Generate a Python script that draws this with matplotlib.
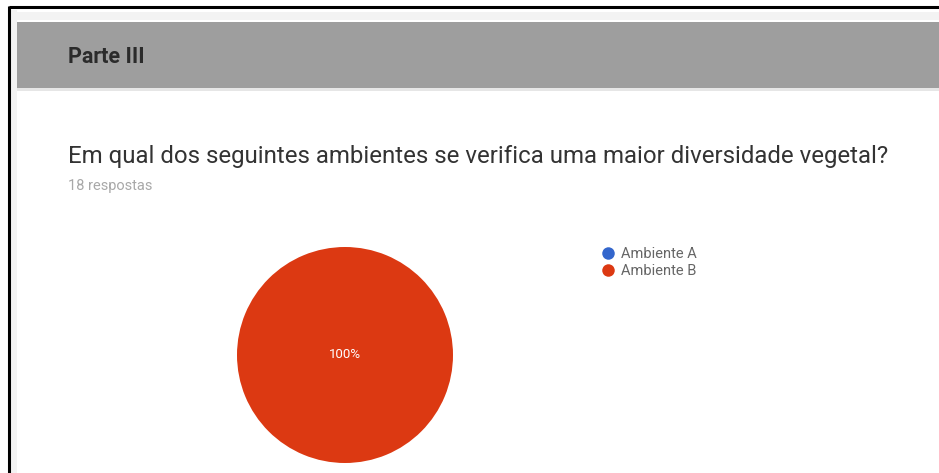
import matplotlib.pyplot as plt
from matplotlib.lines import Line2D
from matplotlib.patches import Rectangle

plt.rcParams['font.family'] = ['Roboto', 'DejaVu Sans']

section = "Parte III"
question = "Em qual dos seguintes ambientes se verifica uma maior diversidade vegetal?"
n_responses = 18
labels = ["Ambiente A", "Ambiente B"]
counts = [0, 18]
colors = ["#3366cc", "#dc3912"]

W, H = 939, 473
fig = plt.figure(figsize=(W / 100, H / 100), dpi=100)

# page frame drawn in pixel coordinates
bg = fig.add_axes([0, 0, 1, 1])
bg.set_xlim(0, W)
bg.set_ylim(H, 0)
bg.axis("off")
bg.add_patch(Rectangle((17, 12), W - 17, 8, color="#f3f3f3", lw=0))
bg.add_patch(Rectangle((17, 22), W - 17, 66, color="#9e9e9e", lw=0))
bg.add_patch(Rectangle((17, 88), W - 17, 3, color="#e6e6e6", lw=0))
bg.add_patch(Rectangle((11, 10), 6, H - 10, color="#f3f3f3", lw=0))
bg.plot([9, W], [7, 7], color="black", lw=2.2, solid_capstyle="butt")
bg.plot([9, 9], [6, H], color="black", lw=2.2, solid_capstyle="butt")

bg.text(68, 57, section, fontsize=15.5, fontweight="bold", color="#2b2b2b",
        va="center", ha="left")
bg.text(68, 156, question, fontsize=17.3, color="#333333", va="center", ha="left")
bg.text(68, 186, f"{n_responses} respostas", fontsize=10.5, color="#a8a8a8",
        va="center", ha="left")

# pie chart
ax = fig.add_axes([237 / W, 1 - 463 / H, 216 / W, 216 / H])
ax.pie(counts, colors=colors, startangle=90, counterclock=False,
       autopct=lambda p: f"{p:.0f}%" if p > 0 else "", pctdistance=0.0,
       textprops=dict(color="white", fontsize=9.5),
       wedgeprops=dict(linewidth=0))
ax.set_xlim(-1, 1)
ax.set_ylim(-1, 1)
ax.set_aspect("equal")

handles = [Line2D([], [], marker="o", ls="", markersize=9, color=c,
                  markeredgewidth=0) for c in colors]
fig.legend(handles, labels, loc="upper left", bbox_to_anchor=(601 / W, 1 - 247 / H),
           frameon=False, fontsize=10.5, labelcolor="#666666", handletextpad=0.35,
           labelspacing=0.2, borderaxespad=0, borderpad=0, handlelength=1.0)

fig.savefig("out.png", dpi=100, facecolor="white")
